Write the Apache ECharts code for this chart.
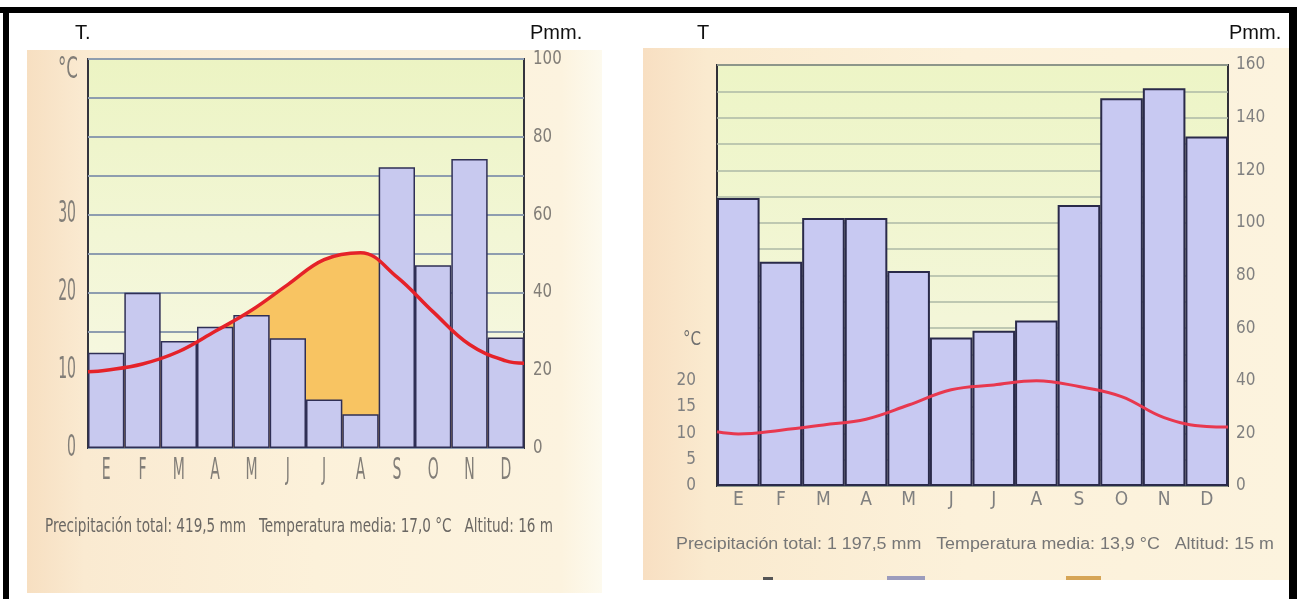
<!DOCTYPE html>
<html><head><meta charset="utf-8">
<script src="https://cdn.jsdelivr.net/npm/echarts@6/dist/echarts.min.js"></script>
<style>html,body{margin:0;padding:0;background:#fff}#c{width:1297px;height:599px}</style>
</head><body><div id="c"></div>
<script>
// ---- data ----
const months = ['E','F','M','A','M','J','J','A','S','O','N','D'];
const precipLeft = [24.5,39.9,27.5,31.2,34.2,28.2,12.5,8.7,72.2,47.0,74.3,28.4];
const tempLeft = [10.0,10.8,12.4,15.0,17.7,21.0,24.2,25.1,22.0,17.5,13.3,11.2];
const tempLeftEdges = [9.8, 10.9];      // curve value read at the left / right frame
const precipRight = [109.5,85.2,101.9,101.9,81.7,56.4,59.0,62.9,106.8,147.4,151.2,132.8];
const tempRight = [9.9,10.6,11.6,12.7,15.4,18.3,19.2,20.0,18.9,17.0,13.0,11.3];
const tempRightEdges = [10.3, 11.2];
const tempTicksLeft = [0,10,20,30];
const precipTicksLeft = [0,20,40,60,80,100];
const tempTicksRight = [0,5,10,15,20];
const precipTicksRight = [0,20,40,60,80,100,120,140,160];
const captionLeft = 'Precipitación total: 419,5 mm   Temperatura media: 17,0 °C   Altitud: 16 m';
const captionRight = 'Precipitación total: 1 197,5 mm   Temperatura media: 13,9 °C   Altitud: 15 m';

// curve points: frame edge, month centres, frame edge
function curve(vals, edges){
  const pts = [[0, edges[0]]];
  vals.forEach((v,i)=>pts.push([i+0.5, v]));
  pts.push([vals.length, edges[1]]);
  return pts;
}

const COND = "'DejaVu Sans Condensed','Liberation Sans',sans-serif";
const SQA = "'DejaVu Sans Condensed', sqza, sans-serif";   // squeezed strongly
const SQB = "'DejaVu Sans Condensed', sqzb, sans-serif";   // squeezed lightly
const SQUEEZE = {sqza:0.52, sqzb:0.88};
const SANS = "'Liberation Sans',Arial,sans-serif";

function fitScale(text, font, target){
  const c = document.createElement('canvas').getContext('2d');
  c.font = font;
  const w = c.measureText(text).width;
  return w > 0 ? target / w : 1;
}
function txt(text, x, y, font, fill, align, target){
  const el = {type:'text', x:x, y:y, z:100, silent:true,
    style:{text:text, font:font, fill:fill, align:align||'left', verticalAlign:'middle',
           textAlign:align||'left', textVerticalAlign:'middle'}};
  if (target) el.scaleX = fitScale(text, font, target);
  return el;
}
function rect(x,y,w,h,fill,z){ return {type:'rect', shape:{x:x,y:y,width:w,height:h}, style:{fill:fill}, z:z, silent:true}; }
function hgrad(stops){ return {type:'linear', x:0, y:0, x2:1, y2:0, colorStops:stops.map(s=>({offset:s[0], color:s[1]}))}; }
function vgrad(stops){ return {type:'linear', x:0, y:0, x2:0, y2:1, colorStops:stops.map(s=>({offset:s[0], color:s[1]}))}; }

const labelGreyL = '#827e78';
const labelGreyR = '#808080';

const chart = echarts.init(document.getElementById('c'), null, {renderer:'canvas'});
chart.setOption({
  animation:false,
  backgroundColor:'#ffffff',
  graphic:[
    rect(27,50,575,543, hgrad([[0,'#f7dfc1'],[0.1,'#faead1'],[0.5,'#fcf1da'],[0.93,'#fcf3df'],[1,'#fdfaee']]), -10),
    rect(643,48,646,532, hgrad([[0,'#f8dfc2'],[0.1,'#faeacf'],[0.5,'#fcf1da'],[1,'#fcf3de']]), -10),
    rect(763,577,10,3,'#555555',5),
    rect(887,576,38,4,'#9c9cbc',5),
    rect(1066,576,35,4,'#d6a556',5),
    rect(0,7,1297,6,'#000000',200),
    rect(3,7,6,592,'#000000',200),
    rect(1289,7,8,592,'#000000',200),
    txt('T.', 75, 33, '20px '+SANS, '#111111'),
    txt('Pmm.', 530, 33, '20px '+SANS, '#111111'),
    txt('T', 697, 33, '20px '+SANS, '#111111'),
    txt('Pmm.', 1229, 33, '20px '+SANS, '#111111'),
    txt('°C', 58, 70, '30px '+COND, labelGreyL, 'left', 20),
    txt('°C', 683, 340, '19px '+COND, '#6f6f6f', 'left', 18),
    txt(captionLeft, 45, 527, '20px '+COND, '#6a6763', 'left', 508),
    txt(captionRight, 676, 545, '16px '+SANS, '#767676', 'left', 598)
  ],
  grid:[
    {left:88, top:59, width:436, height:389, show:true,
     backgroundColor: vgrad([[0,'#ecf4c3'],[0.45,'#f2f6d5'],[1,'#f8f8e6']]),
     borderColor:'#34343e', borderWidth:2, outerBoundsMode:'none'},
    {left:717, top:65, width:511, height:421, show:true,
     backgroundColor: vgrad([[0,'#edf5c6'],[0.6,'#f3f6d8'],[1,'#f6f7e2']]),
     borderColor:'#303038', borderWidth:2, outerBoundsMode:'none'}
  ],
  xAxis:[
    {type:'category', gridIndex:0, data:months, boundaryGap:true,
     axisLine:{show:false}, axisTick:{show:false}, splitLine:{show:false},
     axisLabel:{interval:0, margin:8, color:labelGreyL, fontFamily:SQA, fontSize:30}},
    {type:'category', gridIndex:1, data:months, boundaryGap:true,
     axisLine:{show:false}, axisTick:{show:false}, splitLine:{show:false},
     axisLabel:{interval:0, margin:5, color:labelGreyR, fontFamily:COND, fontSize:19}},
    {type:'value', gridIndex:0, min:0, max:months.length, show:false},
    {type:'value', gridIndex:1, min:0, max:months.length, show:false}
  ],
  yAxis:[
    {type:'value', gridIndex:0, position:'left', min:0, max:50, interval:10,
     axisLine:{show:false}, axisTick:{show:false}, splitLine:{show:false},
     axisLabel:{margin:12, color:labelGreyL, fontFamily:SQA, fontSize:30,
       formatter:v=>tempTicksLeft.includes(v)?String(v):''}},
    {type:'value', gridIndex:0, position:'right', min:0, max:100, interval:10,
     axisLine:{show:false}, axisTick:{show:false},
     splitLine:{show:true, lineStyle:{color:'#8e9daf', width:2}},
     axisLabel:{margin:9, color:labelGreyL, fontFamily:SQB, fontSize:19,
       formatter:v=>precipTicksLeft.includes(v)?String(v):''}},
    {type:'value', gridIndex:1, position:'left', min:0, max:80, interval:5,
     axisLine:{show:false}, axisTick:{show:false}, splitLine:{show:false},
     axisLabel:{margin:21, color:labelGreyR, fontFamily:COND, fontSize:17,
       formatter:v=>tempTicksRight.includes(v)?String(v):''}},
    {type:'value', gridIndex:1, position:'right', min:0, max:160, interval:10,
     axisLine:{show:false}, axisTick:{show:false},
     splitLine:{show:true, lineStyle:{color:'#adb8a6', width:1.5}},
     axisLabel:{margin:8, color:labelGreyR, fontFamily:COND, fontSize:17,
       formatter:v=>precipTicksRight.includes(v)?String(v):''}}
  ],
  series:[
    {type:'line', xAxisIndex:2, yAxisIndex:0, data:curve(tempLeft, tempLeftEdges), smooth:0.4, symbol:'none',
     lineStyle:{width:0}, areaStyle:{color:'#f8c462', opacity:1}, z:1, silent:true},
    {type:'bar', xAxisIndex:0, yAxisIndex:1, data:precipLeft, barCategoryGap:'0%',
     itemStyle:{color:'#c8c9ef', borderColor:'#2f2f55', borderWidth:1.5}, z:2, silent:true},
    {type:'line', xAxisIndex:2, yAxisIndex:0, data:curve(tempLeft, tempLeftEdges), smooth:0.4, symbol:'none',
     lineStyle:{color:'#e52229', width:3.5}, z:3, silent:true},

    {type:'bar', xAxisIndex:1, yAxisIndex:3, data:precipRight, barCategoryGap:'0%',
     itemStyle:{color:'#c8c9f2', borderColor:'#2a2a4a', borderWidth:2}, z:2, silent:true},
    {type:'line', xAxisIndex:3, yAxisIndex:2, data:curve(tempRight, tempRightEdges), smooth:0.4, symbol:'none',
     lineStyle:{color:'#e8384f', width:3}, z:3, silent:true}
  ]
});

// condense the axis labels of the left climogram horizontally (the scan's type is very narrow)
function squeezeLabels(){
  const zr = chart.getZr();
  const visit = el => {
    if (!el || !el.style) return;
    const fam = String(el.style.fontFamily || el.style.font || '');
    for (const k in SQUEEZE){
      if (fam.indexOf(k) >= 0 && el.style.text != null){
        el.scaleX = SQUEEZE[k];
        if (el.markRedraw) el.markRedraw();
      }
    }
  };
  zr.storage.getRoots().forEach(r => { visit(r); if (r.traverse) r.traverse(visit); });
  zr.refresh();
}
squeezeLabels();
</script></body></html>
